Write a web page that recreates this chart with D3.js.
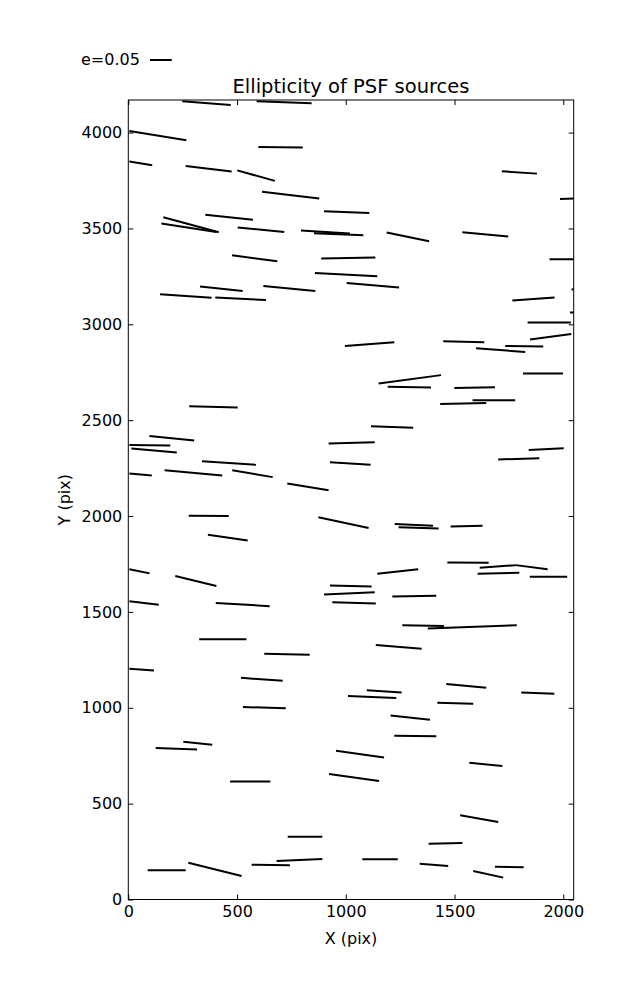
<!DOCTYPE html>
<html><head><meta charset="utf-8">
<script src="https://cdn.jsdelivr.net/npm/d3@7"></script>
<style>
body{margin:0;background:#fff;}
text{font-family:"DejaVu Sans",sans-serif;fill:#000;}
</style></head>
<body><svg id="chart" width="637" height="1000"></svg>
<script>
// Whisker endpoints in data units (X pix, Y pix)
const x1 = [248,590,5,598,5,264,501,615,900,354,161,152,503,794,854,477,887,1718,1985,1188,1536,1937,858,1004,330,621,146,400,280,996,2038,1766,2031,1836,1448,1847,1599,1733,1151,1193,1499,1815,1583,1434,1116,97,5,14,921,927,339,5,167,478,731,278,874,366,5,216,927,900,1841,1701,1225,1243,1482,1467,1616,1781,1145,1606,1846,1214,5,402,938,326,625,5,518,527,1010,1097,253,126,955,1260,1377,1138,1462,1807,1421,1206,1223,468,923,733,89,276,567,682,1568,1526,1381,1076,1340,1586,1686];
const y1 = [4163,4163,4008,3925,3849,3826,3803,3692,3590,3572,3558,3526,3505,3489,3475,3360,3343,3798,3654,3479,3480,3339,3268,3216,3197,3200,3157,3140,2573,2887,3182,3124,3061,3009,2912,2921,2875,2887,2691,2674,2668,2744,2604,2585,2469,2418,2371,2352,2379,2281,2286,2222,2239,2239,2170,2001,1994,1902,1723,1687,1638,1591,2345,2295,1959,1941,1946,1758,1730,1744,1699,1699,1683,1581,1556,1547,1551,1357,1282,1203,1156,1004,1061,1091,823,790,776,1431,1414,1327,1124,1080,1026,960,854,616,654,327,152,192,181,201,713,439,291,210,187,149,171];
const x2 = [471,843,267,802,110,475,674,878,1108,573,416,405,717,1019,1081,685,1136,1879,2090,1383,1747,2060,1145,1245,526,860,383,633,503,1223,2100,1960,2100,2035,1637,2037,1825,1908,1438,1392,1686,1999,1779,1646,1310,303,193,223,1133,1114,587,108,432,664,921,462,1105,549,98,405,1119,1133,2002,1890,1401,1427,1629,1657,1781,1928,1333,1798,2018,1416,140,650,1138,543,834,118,710,724,1232,1257,386,316,1176,1451,1786,1349,1646,1959,1586,1387,1416,653,1153,892,264,521,743,892,1720,1701,1536,1239,1471,1724,1818];
const y2 = [4144,4153,3960,3922,3830,3797,3748,3656,3580,3546,3480,3482,3482,3474,3465,3329,3349,3786,3658,3433,3458,3339,3251,3192,3174,3174,3138,3127,2566,2907,3185,3140,3061,3009,2907,2950,2856,2884,2735,2670,2672,2744,2604,2590,2460,2394,2368,2332,2385,2267,2267,2212,2212,2203,2135,2000,1938,1873,1701,1635,1633,1603,2354,2302,1949,1935,1949,1756,1744,1722,1723,1704,1683,1584,1537,1530,1544,1357,1276,1195,1141,997,1051,1080,807,783,741,1426,1431,1308,1104,1073,1021,937,852,616,618,327,152,123,178,211,696,404,295,210,175,114,168];

const xTicks = [0,500,1000,1500,2000];
const yTicks = [0,500,1000,1500,2000,2500,3000,3500,4000];
const xMax = 2048, yMax = 4170;
const titleText = "Ellipticity of PSF sources";
const legendLabel = "e=0.05";
const legendLen = 100; // X pix units of the 0.05 reference whisker

const svg = d3.select("#chart");
const L = 128.3, T = 100, W = 445.4, H = 799.5;
const x = d3.scaleLinear().domain([0, xMax]).range([L, L + W]);
const y = d3.scaleLinear().domain([0, yMax]).range([T + H, T]);

svg.append("defs").append("clipPath").attr("id","clip")
  .append("rect").attr("x",L).attr("y",T).attr("width",W).attr("height",H);

const segs = x1.map((v,i)=>({x1:v,y1:y1[i],x2:x2[i],y2:y2[i]}));
svg.append("g").attr("clip-path","url(#clip)")
  .selectAll("line").data(segs).join("line")
  .attr("x1",d=>x(d.x1)).attr("y1",d=>y(d.y1))
  .attr("x2",d=>x(d.x2)).attr("y2",d=>y(d.y2))
  .attr("stroke","#000").attr("stroke-width",2);

function styleAxis(g){
  g.select(".domain").remove();
  g.selectAll(".tick line").attr("stroke","#000").attr("stroke-width",1);
  g.selectAll(".tick text").attr("font-size","16px").attr("font-family","DejaVu Sans");
}
svg.append("g").attr("transform",`translate(0,${T+H})`)
  .call(d3.axisBottom(x).tickValues(xTicks).tickSizeInner(-5).tickSizeOuter(0).tickPadding(6).tickFormat(d3.format("d")))
  .call(styleAxis);
svg.append("g").attr("transform",`translate(0,${T})`)
  .call(d3.axisTop(x).tickValues(xTicks).tickSizeInner(-5).tickSizeOuter(0).tickFormat(""))
  .call(styleAxis);
svg.append("g").attr("transform",`translate(${L},0)`)
  .call(d3.axisLeft(y).tickValues(yTicks).tickSizeInner(-5).tickSizeOuter(0).tickPadding(6).tickFormat(d3.format("d")))
  .call(styleAxis);
svg.append("g").attr("transform",`translate(${L+W},0)`)
  .call(d3.axisRight(y).tickValues(yTicks).tickSizeInner(-5).tickSizeOuter(0).tickFormat(""))
  .call(styleAxis);

svg.append("rect").attr("x",L).attr("y",T).attr("width",W).attr("height",H)
  .attr("fill","none").attr("stroke","#000").attr("stroke-width",1);

svg.append("text").attr("x",L+W/2).attr("y",T-7).attr("text-anchor","middle")
  .attr("font-size","19.5px").text(titleText);
svg.append("text").attr("x",L+W/2).attr("y",944).attr("text-anchor","middle")
  .attr("font-size","16px").text("X (pix)");
svg.append("text").attr("transform",`translate(70,${T+H/2}) rotate(-90)`).attr("text-anchor","middle")
  .attr("font-size","16px").text("Y (pix)");

// legend
svg.append("text").attr("x",81).attr("y",65).attr("font-size","16px").text(legendLabel);
svg.append("line").attr("x1",150).attr("x2",150 + (x(legendLen)-x(0)))
  .attr("y1",60).attr("y2",60).attr("stroke","#000").attr("stroke-width",2);
</script></body></html>
